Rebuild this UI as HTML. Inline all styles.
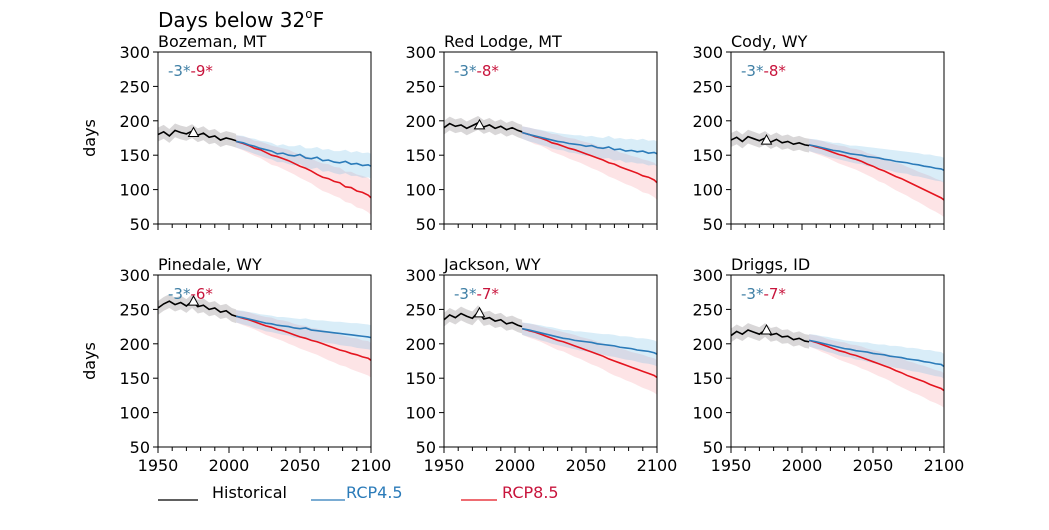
<!DOCTYPE html>
<html><head><meta charset="utf-8"><style>
body{margin:0;background:#fff;}
svg text{font-family:"DejaVu Sans","Liberation Sans",sans-serif;}
</style></head><body>
<svg id="chart" width="1049" height="525" viewBox="0 0 1049 525"></svg>
<script>
const histYears=[1950,1954,1958,1962,1966,1970,1974,1978,1982,1986,1990,1994,1998,2002,2005];
const projYears=[2005,2010,2014,2018,2022,2026,2030,2034,2038,2042,2046,2050,2054,2058,2062,2066,2070,2074,2078,2082,2086,2090,2094,2098,2100];
const stations=["Bozeman, MT","Red Lodge, MT","Cody, WY","Pinedale, WY","Jackson, WY","Driggs, ID"];
const change45=["-3*","-3*","-3*","-3*","-3*","-3*"];
const change85=["-9*","-8*","-8*","-6*","-7*","-7*"];
const triangle=[183,194,172,262,245,220];
const hist=[
[180,184,178,186,183,181,185,179,182,176,178,172,175,173,171],
[190,196,192,194,189,193,197,191,194,189,192,187,190,186,184],
[172,176,170,177,174,171,175,169,173,168,170,166,168,165,164],
[252,258,262,257,260,255,262,254,256,250,252,246,248,242,240],
[235,242,238,244,240,237,246,236,238,233,235,229,231,227,225],
[212,218,214,220,217,214,220,213,215,210,211,206,208,204,203]];
const rcp45=[
[170,168,165,163,160,158,156,152,153,150,149,151,146,145,147,142,143,140,139,141,137,138,135,136,134],
[183,180,178,176,174,172,170,169,167,166,165,163,164,161,160,162,158,159,156,157,155,156,153,154,152],
[165,163,161,159,157,156,154,152,151,150,148,147,146,144,143,141,140,139,137,136,134,133,131,130,128],
[240,238,236,234,232,230,229,227,226,225,223,222,223,220,219,218,217,216,215,214,213,212,211,210,209],
[222,220,218,216,214,212,210,208,207,205,204,203,202,200,199,198,197,195,194,193,191,190,189,187,185],
[205,203,201,199,197,195,193,192,190,189,188,186,185,184,182,181,180,178,177,176,174,173,171,170,167]];
const rcp85=[
[170,167,164,160,158,154,150,148,145,142,138,134,131,127,122,118,116,112,110,104,103,98,96,92,88],
[183,180,177,175,172,168,166,163,160,158,155,152,149,146,143,139,137,133,130,127,124,120,118,114,110],
[165,162,160,157,154,151,149,146,144,141,137,134,130,127,123,119,116,112,108,104,100,96,92,88,85],
[240,237,235,232,229,226,224,221,219,216,213,210,208,205,203,200,197,194,191,189,186,184,181,179,176],
[222,219,217,214,211,208,205,203,200,197,194,191,188,185,182,178,175,172,169,166,163,160,157,154,151],
[205,202,199,196,193,190,188,185,183,180,177,174,171,168,165,161,158,154,151,148,145,141,138,135,132]];
const spreadHist=[10,10,10,10,10,10,10,10,10,10,10,10,10,10,10];
const spread45=[9,10,10,11,11,12,12,12,13,13,14,14,14,15,15,16,16,16,17,17,17,18,18,18,18];
const spread85=[9,10,11,11,12,13,14,14,15,16,16,17,18,18,19,20,21,21,22,22,23,24,24,25,25];
const yTicks=[50,100,150,200,250,300];
const xTicks=[1950,2000,2050,2100];

const NS="http://www.w3.org/2000/svg";
const svg=document.getElementById('chart');
function mk(tag,attrs,parent,text){const e=document.createElementNS(NS,tag);for(const k in attrs)e.setAttribute(k,attrs[k]);if(text!==undefined)e.textContent=text;(parent||svg).appendChild(e);return e;}
const colL=[158,444,731], W=213, rowT=[52,275], H=172;
const t=mk('text',{x:158,y:27,'font-size':20,fill:'#000'},svg,'Days below 32');


mk('tspan',{'font-size':12,dy:-9},t,'o');
mk('tspan',{dy:9},t,'F');
for(let p=0;p<6;p++){
  const L=colL[p%3], T=rowT[Math.floor(p/3)];
  const g=mk('g',{});
  
  
  const x=v=>L+(v-1950)/150*W, y=v=>T+H-(v-50)/250*H;
  function band(years,mean,sp,fill,nm){
    let d='';years.forEach((yr,i)=>{d+=(i?'L':'M')+x(yr)+','+y(mean[i]+sp[i]);});
    for(let i=years.length-1;i>=0;i--)d+='L'+x(years[i])+','+y(mean[i]-sp[i]);
    const e=mk('path',{d:d+'Z',fill:fill},g);
    
    
  }
  function line(years,vals,col,nm){
    const e=mk('polyline',{points:years.map((yr,i)=>x(yr)+','+y(vals[i])).join(' '),fill:'none',stroke:col,'stroke-width':1.6},g);
    
    
  }
  band(histYears,hist[p],spreadHist,'rgba(120,110,115,0.28)','historical-range');
  band(projYears,rcp85[p],spread85,'rgba(245,130,140,0.22)','rcp85-range');
  band(projYears,rcp45[p],spread45,'rgba(120,190,230,0.28)','rcp45-range');
  line(projYears,rcp85[p],'#e4151f','rcp85-line');
  line(projYears,rcp45[p],'#2b7bb9','rcp45-line');
  line(histYears,hist[p],'#000','historical-line');
  const tri=mk('path',{d:`M${x(1975)-5},${y(triangle[p])+4}L${x(1975)+5},${y(triangle[p])+4}L${x(1975)},${y(triangle[p])-5}Z`,fill:'#fff',stroke:'#000','stroke-width':1},g);
  
  
  const fr=mk('rect',{x:L,y:T,width:W,height:H,fill:'none',stroke:'#000','stroke-width':1},g);
  
  
  yTicks.forEach(v=>{
    mk('line',{x1:L-5,x2:L,y1:y(v),y2:y(v),stroke:'#000'},g);
    const tl=mk('text',{x:L-8,y:y(v)+6,'font-size':16,'text-anchor':'end'},g,v);
    
    
  });
  for(let yr=1950;yr<=2100;yr+=10){
    const major=(yr%50===0);
    mk('line',{x1:x(yr),x2:x(yr),y1:T+H,y2:T+H+(major?6:4),stroke:'#000'},g);
  }
  if(p>=3) xTicks.forEach(v=>{
    const tl=mk('text',{x:x(v),y:T+H+24,'font-size':16,'text-anchor':'middle'},g,v);
    
    
  });
  const st=mk('text',{x:L,y:T-5,'font-size':16},g,stations[p]);
  
  
  const ch=mk('text',{x:L+10,y:T+24,'font-size':15},g);
  
  
  mk('tspan',{fill:'#3f7fa5'},ch,change45[p]);
  mk('tspan',{fill:'#c8143c'},ch,change85[p]);
  if(p%3===0){
    const yl=mk('text',{transform:`translate(${L-63},${T+H/2}) rotate(-90)`,'font-size':16,'text-anchor':'middle'},g,'days');
    
    
  }
}
const legend=[["Historical","#000",158,198,212,'#000'],["RCP4.5","#2b7bb9",311,345,346,'#2b7bb9'],["RCP8.5","#e4151f",461,497,502,'#c8143c']];
legend.forEach(l=>{
  const g=mk('g',{});
  
  
  mk('line',{x1:l[2],x2:l[3],y1:500,y2:500,stroke:l[1],'stroke-width':1.3},g);
  mk('text',{x:l[4],y:498,'font-size':16,fill:l[5]},g,l[0]);
});
</script>
</body></html>
